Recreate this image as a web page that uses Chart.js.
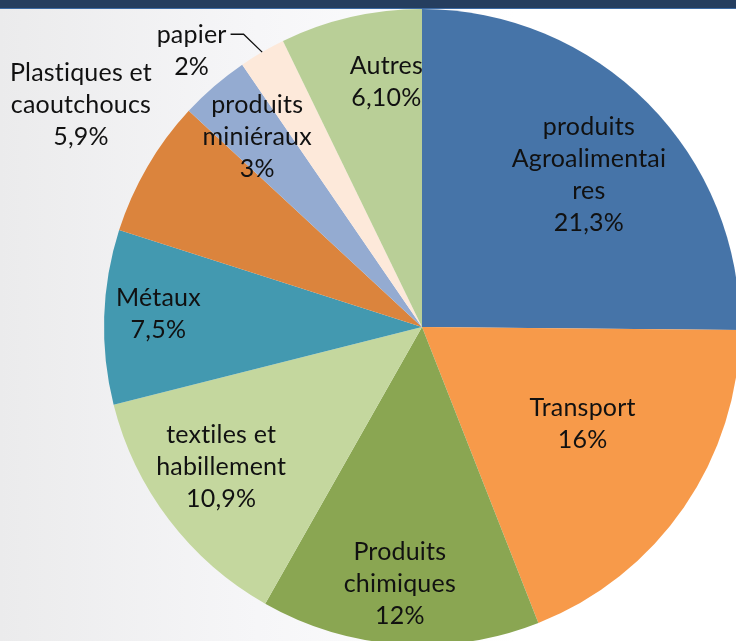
<!DOCTYPE html>
<html>
<head>
<meta charset="utf-8">
<script src="https://cdn.jsdelivr.net/npm/chart.js@4"></script>
<style>
  html, body { margin: 0; padding: 0; width: 736px; height: 641px; overflow: hidden; }
  body { background: linear-gradient(to right, #ebebec 0%, #f6f6f8 35%, #ffffff 70%); position: relative; }
  #topbar { position: absolute; left: 0; top: 0; width: 736px; height: 8px; background: #253e5f; border-bottom: 1px solid #3c6aa3; z-index: 2; }
  #pie { position: absolute; left: 0; top: 0; }
</style>
</head>
<body>
<div id="topbar"></div>
<canvas id="pie" width="844" height="654"></canvas>
<script>
// data
const sectors = [
  ['produits', 'Agroalimentai', 'res'],
  ['Transport'],
  ['Produits', 'chimiques'],
  ['textiles et', 'habillement'],
  ['Métaux'],
  ['Plastiques et', 'caoutchoucs'],
  ['produits', 'miniéraux'],
  ['papier'],
  ['Autres']
];
const shares = [21.3, 16, 12, 10.9, 7.5, 5.9, 3, 2, 6.1];
const shareLabels = ['21,3%', '16%', '12%', '10,9%', '7,5%', '5,9%', '3%', '2%', '6,10%'];
const colors = ['#4674a8', '#f79a4a', '#8aa652', '#c4d79e', '#4399b0', '#db843d', '#94abd1', '#fde9da', '#b9cf97'];

// label placement: fraction of radius and angle shift (deg) from slice middle
const labelRadius = [0.71, 0.59, 0.81, 0.77, 0.83, 1.28, 0.79, 1.13, 0.78];
const labelShift = [2.4, -3.4, 0.9, 2.4, 1, 2.8, -0.2, -9.7, 4.7];
const leaderLine = [false, false, false, false, false, false, false, true, false];

const LINE_H = 32;

const labelPlugin = {
  id: 'sliceLabels',
  afterDatasetsDraw(chart) {
    const ctx = chart.ctx;
    const arcs = chart.getDatasetMeta(0).data;
    ctx.save();
    ctx.font = '25px Lato';
    ctx.letterSpacing = '0.2px'; // also stops the "ti" ligature
    ctx.fillStyle = '#111111';
    ctx.textAlign = 'center';
    ctx.textBaseline = 'middle';
    arcs.forEach((arc, i) => {
      const p = arc.getProps(['x', 'y', 'startAngle', 'endAngle', 'outerRadius'], true);
      const mid = (p.startAngle + p.endAngle) / 2;
      const a = mid + labelShift[i] * Math.PI / 180;
      const cx = p.x + Math.cos(a) * p.outerRadius * labelRadius[i];
      const cy = p.y + Math.sin(a) * p.outerRadius * labelRadius[i];
      const lines = sectors[i].concat([shareLabels[i]]);
      const top = cy - (lines.length - 1) * LINE_H / 2;
      lines.forEach((t, k) => ctx.fillText(t, cx, top + k * LINE_H));
      if (leaderLine[i]) {
        const w = ctx.measureText(lines[0]).width;
        const ex = p.x + Math.cos(mid) * p.outerRadius;
        const ey = p.y + Math.sin(mid) * p.outerRadius;
        const sx = cx + w / 2 + 4;
        ctx.strokeStyle = '#111111';
        ctx.lineWidth = 1.3;
        ctx.beginPath();
        ctx.moveTo(sx, top - 1);
        ctx.lineTo(sx + 13, top - 1);
        ctx.lineTo(ex, ey);
        ctx.stroke();
      }
    });
    ctx.restore();
  }
};

new Chart(document.getElementById('pie').getContext('2d'), {
  type: 'pie',
  data: {
    labels: sectors.map(s => s.join(' ')),
    datasets: [{
      data: shares,
      backgroundColor: colors,
      borderWidth: 0
    }]
  },
  options: {
    responsive: false,
    animation: false,
    layout: { padding: 9 },
    plugins: {
      legend: { display: false },
      tooltip: { enabled: false }
    }
  },
  plugins: [labelPlugin]
});
</script>
</body>
</html>
